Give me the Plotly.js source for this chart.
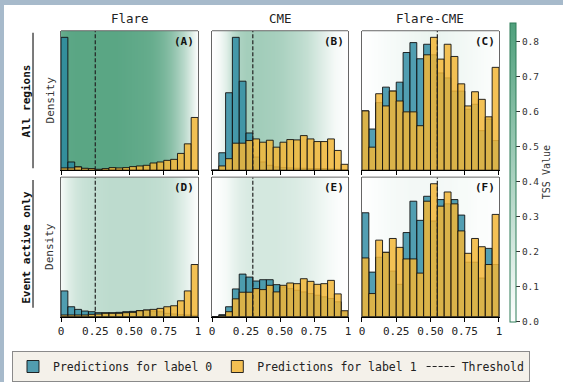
<!DOCTYPE html>
<html><head><meta charset="utf-8">
<script src="https://cdn.plot.ly/plotly-3.0.1.min.js"></script>
<style>
html,body{margin:0;padding:0;background:#a7bacb;width:563px;height:382px;overflow:hidden}
#chart{position:absolute;left:4px;top:5px;width:559px;height:377px;background:#fff}
</style>
</head><body><div id="chart"></div>
<script>
// ---- data ----
const binCenters = [0.025,0.075,0.125,0.175,0.225,0.275,0.325,0.375,0.425,0.475,0.525,0.575,0.625,0.675,0.725,0.775,0.825,0.875,0.925,0.975];
const colTitles = ['Flare','CME','Flare-CME'];
const rowTitles = ['All regions','Event active only'];
const panelLetters = ['(A)','(B)','(C)','(D)','(E)','(F)'];
const xTickVals = [0,0.25,0.5,0.75,1];
const xTickText = ['0','0.25','0.50','0.75','1'];
const thresholds = [0.25,0.30,0.55,0.25,0.30,0.55];

// densities (label 0 / label 1) per panel
const allFlare0 = [4.03,0.25,0.10,0.05,0.03,0.02,0.02,0.02,0.02,0.02,0.02,0.02,0.02,0.02,0.02,0.02,0.01,0.01,0.01,0.01];
const allFlare1 = [0.07,0.07,0.10,0.06,0.05,0.03,0.05,0.08,0.07,0.08,0.11,0.13,0.15,0.22,0.25,0.30,0.33,0.51,0.80,1.60];
const allCme0 = [0,0.53,2.35,4.03,2.70,1.13,0.40,0.25,0.15,0.10,0.08,0.07,0.06,0.06,0.05,0.05,0.05,0.04,0.03,0.02];
const allCme1 = [0,0.13,0.35,0.82,0.82,0.90,0.95,0.85,0.91,0.70,0.85,0.93,0.92,1.05,0.95,0.87,0.87,0.95,0.60,0.18];
const allFc0 = [1.80,1.25,2.05,2.52,2.40,2.67,3.57,3.87,3.38,3.82,3.50,2.95,2.80,2.40,2.40,1.85,2.00,1.20,1.55,0.90];
const allFc1 = [1.80,0.70,2.32,1.95,2.40,2.10,1.77,1.77,1.35,3.50,4.03,3.37,3.82,3.45,2.62,1.95,2.38,2.15,1.62,3.12];
const actFlare0 = [0.78,0.30,0.22,0.17,0.15,0.12,0.12,0.12,0.13,0.15,0.16,0.18,0.20,0.17,0.15,0.10,0.08,0.06,0.05,0.04];
const actFlare1 = [0.05,0.05,0.05,0.05,0.07,0.08,0.10,0.10,0.10,0.12,0.13,0.18,0.20,0.22,0.25,0.30,0.33,0.48,0.78,1.58];
const actCme0 = [0,0.06,0.30,0.84,1.29,1.20,1.08,1.12,1.12,0.97,0.90,0.85,0.80,0.75,0.70,0.65,0.60,0.55,0.45,0.15];
const actCme1 = [0,0.03,0.15,0.54,0.74,0.74,0.85,0.82,0.95,0.75,0.95,1.02,1.00,1.15,1.07,0.98,1.00,1.10,0.69,0.18];
const actFc0 = [3.15,1.35,1.80,1.95,1.38,0.98,2.55,3.50,2.92,3.65,2.90,3.55,3.42,3.55,3.08,1.65,1.65,1.17,2.07,1.58];
const actFc1 = [1.78,0.70,2.32,1.95,2.37,2.10,1.75,1.75,1.32,3.50,4.03,3.35,3.78,3.42,2.60,1.92,2.37,2.12,1.58,3.10];

// TSS as a function of threshold
const tssX = [0,0.05,0.1,0.15,0.2,0.25,0.3,0.35,0.4,0.45,0.5,0.55,0.6,0.65,0.7,0.75,0.8,0.85,0.9,0.95,1];
const tssAllFlare = [0.74,0.79,0.80,0.80,0.80,0.80,0.80,0.80,0.80,0.79,0.78,0.77,0.76,0.74,0.70,0.64,0.56,0.46,0.33,0.17,0.0];
const tssAllCme = [0.0,0.05,0.15,0.30,0.40,0.44,0.45,0.45,0.44,0.43,0.41,0.38,0.35,0.32,0.28,0.22,0.16,0.10,0.05,0.02,0.0];
const tssAllFc = [0.0,0.01,0.02,0.03,0.04,0.05,0.06,0.07,0.08,0.09,0.10,0.10,0.09,0.08,0.07,0.06,0.05,0.04,0.03,0.02,0.0];
const tssActFlare = [0.05,0.15,0.22,0.26,0.28,0.30,0.31,0.32,0.32,0.32,0.32,0.32,0.32,0.31,0.30,0.28,0.25,0.20,0.14,0.07,0.0];
const tssActCme = [0.0,0.02,0.05,0.10,0.15,0.18,0.20,0.21,0.21,0.21,0.20,0.19,0.18,0.16,0.14,0.11,0.08,0.05,0.03,0.01,0.0];
const tssActFc = [0.0,0.01,0.02,0.03,0.04,0.05,0.05,0.06,0.06,0.06,0.06,0.06,0.05,0.05,0.04,0.04,0.03,0.02,0.02,0.01,0.0];

// ---- build ----
const panels = [
  {d0: allFlare0, d1: allFlare1, tss: tssAllFlare},
  {d0: allCme0, d1: allCme1, tss: tssAllCme},
  {d0: allFc0, d1: allFc1, tss: tssAllFc},
  {d0: actFlare0, d1: actFlare1, tss: tssActFlare},
  {d0: actCme0, d1: actCme1, tss: tssActCme},
  {d0: actFc0, d1: actFc1, tss: tssActFc}
];
const FONT = 'DejaVu Sans Mono, monospace';
const yMax = 4.23;
const zMax = 0.855;
const cscale = [[0,'#ffffff'],[1,'#4fa07c']];
const xd = [[0.1020,0.3471],[0.3721,0.6154],[0.6404,0.8855]];
const yd = [[0.5570,0.9310],[0.1645,0.5385]];

const traces = [];
const layout = {
  width: 559, height: 377,
  margin: {l:0,r:0,t:0,b:0},
  paper_bgcolor: '#ffffff', plot_bgcolor: '#ffffff',
  barmode: 'overlay', bargap: 0,
  font: {family: FONT, color: '#222', size: 11},
  showlegend: true,
  legend: {orientation:'h', x:0.0143, y:0.0716, xanchor:'left', yanchor:'top',
    bgcolor:'#f4f1ea', bordercolor:'#8a8a8a', borderwidth:1,
    font:{family:FONT, size:11.5, color:'#222'}, itemwidth:30, traceorder:'normal'},
  annotations: [], shapes: []
};

panels.forEach((p, i) => {
  const r = Math.floor(i/3), c = i % 3;
  const sfx = i === 0 ? '' : String(i+1);
  const xa = 'x' + sfx, ya = 'y' + sfx;
  traces.push({type:'heatmap', x: tssX, y:[-1, 10], z:[p.tss, p.tss], zsmooth:'best',
    colorscale: cscale, zmin:0, zmax:zMax, xaxis:xa, yaxis:ya, hoverinfo:'skip',
    showscale: i === 0,
    colorbar: {x:0.9052, xanchor:'left', y:0.1512, yanchor:'bottom', len:0.8011, lenmode:'fraction',
      thickness:6, xpad:0, ypad:0, outlinecolor:'#2f7d58', outlinewidth:1,
      ticks:'outside', ticklen:4, tickcolor:'#333', tickvals:[0,0.1,0.2,0.3,0.4,0.5,0.6,0.7,0.8],
      tickformat:'.1f', tickfont:{family:FONT, size:9.5, color:'#333'},
      title:{text:'TSS Value', side:'right', font:{family:FONT, size:10, color:'#333'}}}
  });
  traces.push({type:'bar', x: binCenters, y: p.d0, width:0.05, xaxis:xa, yaxis:ya,
    name:'Predictions for label 0', showlegend: i === 0, legendgroup:'l0',
    marker:{color:'rgba(40,135,160,0.8)', line:{color:'#111', width:0.9}}});
  traces.push({type:'bar', x: binCenters, y: p.d1, width:0.05, xaxis:xa, yaxis:ya,
    name:'Predictions for label 1', showlegend: i === 0, legendgroup:'l1',
    marker:{color:'rgba(242,182,55,0.85)', line:{color:'#111', width:0.9}}});
  traces.push({type:'scatter', mode:'lines', x:[thresholds[i], thresholds[i]], y:[0, yMax],
    xaxis:xa, yaxis:ya, name:'Threshold', showlegend: i === 0, legendgroup:'th',
    line:{color:'#222', width:1.2, dash:'4px,2px'}, hoverinfo:'skip'});

  layout['xaxis' + sfx] = {domain: xd[c], anchor: ya, range:[0,1], fixedrange:true,
    tickvals: xTickVals, ticktext: r === 1 ? xTickText : ['','','','',''],
    ticks:'outside', ticklen:4, tickcolor:'#000', showline:true, linecolor:'#000', linewidth:1,
    showgrid:false, zeroline:false, tickfont:{family:FONT, size:11, color:'#222'}};
  layout['yaxis' + sfx] = {domain: yd[r], anchor: xa, range:[0, yMax], fixedrange:true,
    showticklabels:false, ticks:'', showline:true, mirror:true, linecolor:'#666', linewidth:1,
    showgrid:false, zeroline:false};
  layout.shapes.push({type:'line', xref: xa + ' domain', yref: ya + ' domain', x0:0, x1:1, y0:1, y1:1,
    line:{color:'#666', width:1}});
  layout.annotations.push({xref: xa + ' domain', yref: ya + ' domain', x:0.985, y:0.985,
    xanchor:'right', yanchor:'top', showarrow:false, text:'<b>' + panelLetters[i] + '</b>',
    font:{family:FONT, size:11, color:'#111'}});
});

// column titles
colTitles.forEach((t, c) => {
  layout.annotations.push({xref:'paper', yref:'paper', x:(xd[c][0]+xd[c][1])/2, y:0.9629,
    xanchor:'center', yanchor:'middle', showarrow:false, text:t,
    font:{family:FONT, size:12.5, color:'#222'}});
});
// row titles, Density labels and bracket lines
const rowCenters = [0.744, 0.3515];
const rowLines = [[0.5623, 0.9257],[0.1883, 0.5305]];
rowTitles.forEach((t, r) => {
  layout.annotations.push({xref:'paper', yref:'paper', x:0.0411, y:rowCenters[r], textangle:-90,
    xanchor:'center', yanchor:'middle', showarrow:false, text:'<b>' + t + '</b>',
    font:{family:FONT, size:11, color:'#111'}});
  layout.annotations.push({xref:'paper', yref:'paper', x:0.0823, y:rowCenters[r], textangle:-90,
    xanchor:'center', yanchor:'middle', showarrow:false, text:'Density',
    font:{family:FONT, size:11, color:'#333'}});
  layout.shapes.push({type:'line', xref:'paper', yref:'paper', x0:0.0519, x1:0.0519,
    y0:rowLines[r][0], y1:rowLines[r][1], line:{color:'#222', width:1.2}});
});

Plotly.newPlot('chart', traces, layout, {staticPlot:true, displayModeBar:false});
</script></body></html>
